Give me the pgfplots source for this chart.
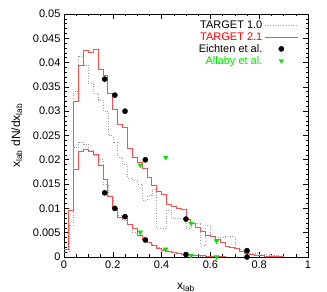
\documentclass[border=0pt]{standalone}
\usepackage{pgfplots}
\usepackage{pgfplotstable}
\usepackage{fontspec}
\setmainfont{Liberation Sans}
\pgfplotsset{compat=1.18}
\definecolor{tred}{RGB}{250,80,80}
\definecolor{tgray}{RGB}{160,160,160}
\definecolor{tgreen}{RGB}{0,230,0}
\pgfplotsset{
  linelegend/.style={legend image code/.code={\draw[##1] (0bp,0bp) -- (33bp,0bp);}},
  marklegend/.style={legend image code/.code={\draw[mark repeat=2,mark phase=2,##1] plot coordinates {(0bp,0bp)(16.5bp,0bp)(33bp,0bp)};}},
}

\pgfplotstableread{
x y
0.00 0.0015
0.02 0.0095
0.04 0.0320
0.06 0.0395
0.08 0.0426
0.10 0.0420
0.12 0.0428
0.14 0.0386
0.16 0.0374
0.18 0.0337
0.20 0.0304
0.22 0.0272
0.24 0.0266
0.26 0.0224
0.28 0.0205
0.30 0.0195
0.32 0.0183
0.34 0.0163
0.36 0.0147
0.38 0.0134
0.40 0.0129
0.42 0.0108
0.44 0.0104
0.46 0.0100
0.48 0.0097
0.50 0.0078
0.52 0.0069
0.54 0.0061
0.56 0.0052
0.58 0.0045
0.60 0.0042
0.62 0.0036
0.64 0.0029
0.66 0.0021
0.68 0.0020
0.70 0.0018
0.72 0.0011
0.74 0.0008
0.76 0.0005
0.78 0.0004
0.80 0.0003
0.82 0.0002
0.84 0.0002
0.86 0.0001
0.88 0.0001
0.90 0.0000
1.00 0.0000
}\redup

\pgfplotstableread{
x y
0.00 0.0015
0.02 0.0095
0.04 0.0180
0.06 0.0218
0.08 0.0222
0.10 0.0218
0.12 0.0210
0.14 0.0189
0.16 0.0160
0.18 0.0125
0.20 0.0100
0.22 0.0082
0.24 0.0080
0.26 0.0066
0.28 0.0058
0.30 0.0045
0.32 0.0036
0.34 0.0030
0.36 0.0024
0.38 0.0018
0.40 0.0013
0.42 0.0011
0.44 0.0009
0.46 0.0008
0.48 0.0006
0.50 0.0005
0.52 0.0004
0.54 0.0003
0.56 0.0003
0.58 0.0002
0.60 0.0002
0.62 0.0001
0.64 0.0001
0.66 0.0000
1.00 0.0000
}\redlow

\pgfplotstableread{
x y
0.00 0.0010
0.02 0.0066
0.04 0.0340
0.06 0.0412
0.08 0.0395
0.10 0.0357
0.12 0.0337
0.14 0.0323
0.16 0.0300
0.18 0.0250
0.20 0.0235
0.22 0.0206
0.24 0.0190
0.26 0.0162
0.28 0.0158
0.30 0.0150
0.32 0.0117
0.34 0.0126
0.36 0.0140
0.38 0.0060
0.40 0.0060
0.42 0.0097
0.44 0.0080
0.46 0.0080
0.48 0.0080
0.50 0.0060
0.52 0.0070
0.54 0.0070
0.56 0.0025
0.58 0.0066
0.60 0.0042
0.62 0.0040
0.64 0.0040
0.66 0.0042
0.68 0.0042
0.70 0.0018
0.72 0.0015
0.74 0.0012
0.76 0.0008
0.78 0.0008
0.80 0.0006
0.82 0.0005
0.84 0.0004
0.86 0.0003
0.88 0.0002
0.90 0.0000
1.00 0.0000
}\grayup

\pgfplotstableread{
x y
0.00 0.0010
0.02 0.0066
0.04 0.0225
0.06 0.0237
0.08 0.0232
0.10 0.0220
0.12 0.0210
0.14 0.0200
0.16 0.0150
0.18 0.0125
0.20 0.0100
0.22 0.0085
0.24 0.0075
0.26 0.0068
0.28 0.0050
0.30 0.0045
0.32 0.0036
0.34 0.0030
0.36 0.0024
0.38 0.0020
0.40 0.0016
0.42 0.0012
0.44 0.0010
0.46 0.0008
0.48 0.0006
0.50 0.0005
0.52 0.0004
0.54 0.0003
0.56 0.0002
0.58 0.0002
0.60 0.0001
0.62 0.0000
1.00 0.0000
}\graylow

\pgfplotstableread{
x y
0.1667 0.0366
0.2083 0.0333
0.2500 0.0300
0.3333 0.0200
0.5000 0.0078
0.7500 0.0013
0.1667 0.0132
0.2083 0.0100
0.2500 0.0083
0.3333 0.0035
0.5000 0.0005
0.7500 0.0000
}\eichten

\pgfplotstableread{
x y
0.3125 0.0189
0.4167 0.0205
0.5208 0.0069
0.6250 0.0033
0.3125 0.0051
0.4167 0.0016
0.5208 0.0003
0.6250 0.0000
}\allaby

\begin{document}
\begin{tikzpicture}[font=\fontsize{11bp}{12bp}\selectfont]
\begin{axis}[
  scale only axis,
  width=244bp, height=243bp,
  xmin=0, xmax=1, ymin=0, ymax=0.05,
  xtick={0,0.2,0.4,0.6,0.8,1},
  ytick={0,0.005,0.01,0.015,0.02,0.025,0.03,0.035,0.04,0.045,0.05},
  minor x tick num=3,
  minor y tick num=4,
  tick align=inside,
  major tick length=5bp,
  minor tick length=2.5bp,
  tick style={black, line width=0.6bp},
  axis line style={line width=0.8bp},
  /pgf/number format/assume math mode=true,
  xticklabel style={/pgf/number format/fixed, /pgf/number format/precision=1},
  yticklabel style={/pgf/number format/fixed, /pgf/number format/precision=3},
  scaled y ticks=false,
  scaled x ticks=false,
  xlabel={x\textsubscript{lab}},
  ylabel={x\textsubscript{lab} dN/dx\textsubscript{lab}},
  xlabel style={yshift=-8bp, font=\fontsize{12bp}{13bp}\selectfont},
  ylabel style={yshift=4bp, font=\fontsize{12bp}{13bp}\selectfont},
  legend plot pos=right,
  legend cell align=right,
  legend style={draw=none, fill=none, at={(rel axis cs:0.965,0.985)}, anchor=north east,
    row sep=-1.5bp, inner sep=1bp},
]
\addplot[tgray, dotted, line width=0.6bp, const plot mark left, linelegend] table {\grayup};
\addlegendentry{TARGET 1.0}
\addplot[tred, line width=0.9bp, const plot mark left, linelegend] table {\redup};
\addlegendentry{\textcolor{red}{TARGET 2.1}}
\addplot[only marks, mark=*, black, mark size=2.6bp, marklegend] table {\eichten};
\addlegendentry{Eichten et al.}
\addplot[only marks, mark=triangle*, tgreen, mark size=2.6bp, mark options={rotate=180}, marklegend] table {\allaby};
\addlegendentry{\textcolor{tgreen}{Allaby et al.}}
\addplot[tgray, dotted, line width=0.6bp, const plot mark left, forget plot] table {\graylow};
\addplot[tred, line width=0.9bp, const plot mark left, forget plot] table {\redlow};
\end{axis}
\pgfresetboundingbox
\path ([shift={(-64bp,-35bp)}]current axis.south west) rectangle ([shift={(19bp,14bp)}]current axis.north east);
\end{tikzpicture}
\end{document}
